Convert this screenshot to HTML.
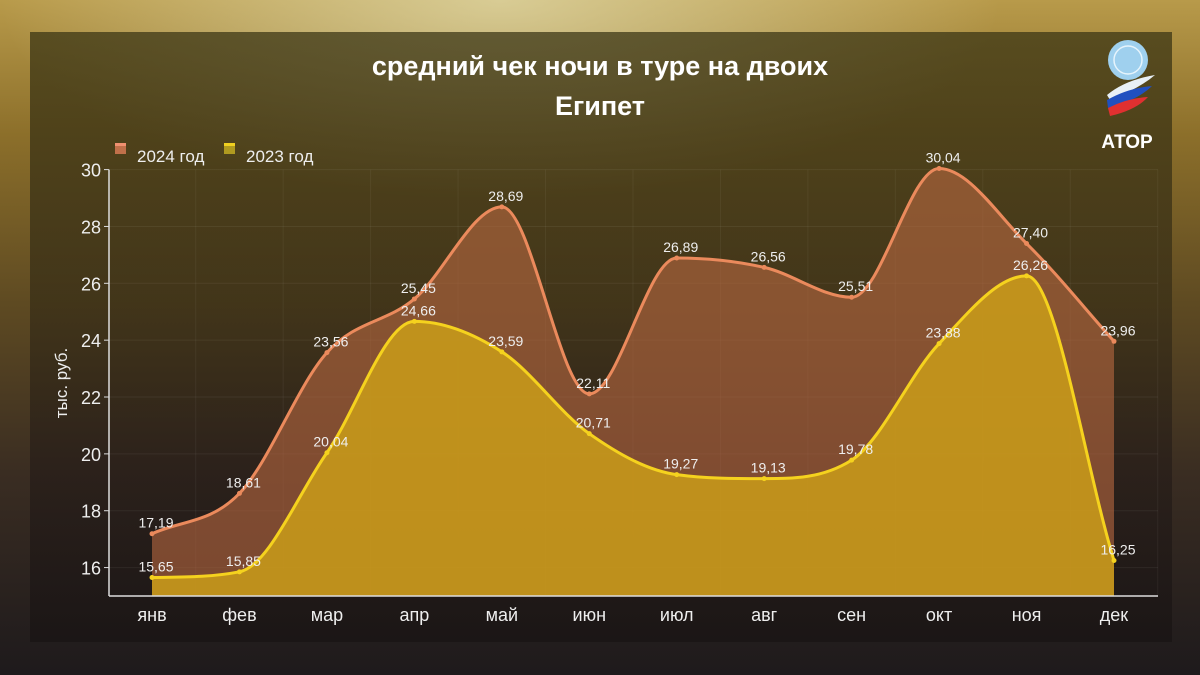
<!DOCTYPE html>
<html><head><meta charset="utf-8">
<style>
html,body{margin:0;padding:0;}
body{width:1200px;height:675px;overflow:hidden;position:relative;font-family:"Liberation Sans","DejaVu Sans",sans-serif;
background:linear-gradient(180deg,#b89a4a 0%,#8c6f2a 20%,#5e4a22 45%,#3a2d22 70%,#1e1a1c 100%);}
#bgglow{position:absolute;left:0;top:0;width:1200px;height:675px;background:radial-gradient(ellipse 500px 200px at 500px 0px,rgba(230,225,180,0.7),rgba(230,225,180,0) 100%);}
#panel{position:absolute;left:30px;top:32px;width:1142px;height:610px;background:linear-gradient(180deg,rgba(55,50,18,0.72) 0%,rgba(55,45,22,0.72) 45%,rgba(40,30,25,0.75) 70%,rgba(25,20,20,0.8) 100%);}
svg{position:absolute;left:0;top:0;}
</style></head>
<body>
<div id="bgglow"></div>
<div id="panel"></div>
<svg id="chart" width="1200" height="675">
  <text x="600" y="75" text-anchor="middle" fill="#fff" font-size="27" font-weight="bold">средний чек ночи в туре на двоих</text>
  <text x="600" y="115" text-anchor="middle" fill="#fff" font-size="27" font-weight="bold">Египет</text>
  <g>
    <g>
      <rect x="115" y="143" width="11" height="11" fill="#c0704a"/><rect x="115" y="143" width="11" height="3" fill="#f09070"/>
      <text x="137" y="162" fill="#eee" font-size="17">2024 год</text>
    </g>
    <g>
      <rect x="224" y="143" width="11" height="11" fill="#b09a20"/><rect x="224" y="143" width="11" height="3" fill="#f0d020"/>
      <text x="246" y="162" fill="#eee" font-size="17">2023 год</text>
    </g>
  </g>
  <g>
    <circle cx="1128" cy="60" r="20" fill="#9fd0ee"/>
    <circle cx="1128" cy="60" r="14" fill="none" stroke="#e6f4fc" stroke-width="1.5"/>
    <path d="M1107 95 Q1125 80 1155 75 Q1140 88 1110 100Z" fill="#e8f0f6"/>
    <path d="M1107 100 Q1128 88 1152 86 Q1138 100 1108 108Z" fill="#2050c0"/>
    <path d="M1108 108 Q1128 98 1148 97 Q1136 110 1110 116Z" fill="#e03030"/>
    <text x="1127" y="148" text-anchor="middle" fill="#fff" font-size="19" font-weight="bold">АТОР</text>
  </g>
  <g id="grid"></g>
  <g id="series"></g>
  <g id="axes"></g>
  <text transform="translate(67,383) rotate(-90)" text-anchor="middle" fill="#eee" font-size="17">тыс. руб.</text>
</svg>
<script>
const months = ["янв","фев","мар","апр","май","июн","июл","авг","сен","окт","ноя","дек"];
const values2024 = [17.19,18.61,23.56,25.45,28.69,22.11,26.89,26.56,25.51,30.04,27.40,23.96];
const values2023 = [15.65,15.85,20.04,24.66,23.59,20.71,19.27,19.13,19.78,23.88,26.26,16.25];
const yTicks = [16,18,20,22,24,26,28,30];
const yMin = 15, yMax = 30;
const NS = "http://www.w3.org/2000/svg";
const plotL = 109, plotR = 1158, plotT = 169.6, plotB = 596;
const x = i => 152 + i * (1114 - 152) / (months.length - 1);
const y = v => plotB - (v - yMin) / (yMax - yMin) * (plotB - plotT);
function mk(tag, attrs, parent){const e=document.createElementNS(NS,tag);for(const k in attrs)e.setAttribute(k,attrs[k]);parent.appendChild(e);return e;}
const grid=document.getElementById('grid'), axes=document.getElementById('axes'), ser=document.getElementById('series');
yTicks.forEach(t=>{
  const l=mk('line',{x1:plotL,x2:plotR,y1:y(t),y2:y(t),stroke:'rgba(255,255,255,0.06)'},grid);
  
  
  const tk=mk('line',{x1:plotL-5,x2:plotL,y1:y(t),y2:y(t),stroke:'#ddd'},axes);
  
  
  const tx=mk('text',{x:plotL-8,y:y(t)+7,'text-anchor':'end',fill:'#eee','font-size':'18'},axes);
  tx.textContent=t;
  
  
});
months.forEach((m,i)=>{
  const gl=mk('line',{x1:x(i)+43.7,x2:x(i)+43.7,y1:plotT,y2:plotB,stroke:'rgba(255,255,255,0.05)'},grid);
  
  
  const tx=mk('text',{x:x(i),y:621,'text-anchor':'middle',fill:'#eee','font-size':'18'},axes);
  tx.textContent=m;
  
  
});
const ya=mk('line',{x1:plotL,x2:plotL,y1:plotT,y2:plotB,stroke:'#ddd','stroke-width':1.5},axes);


const xa=mk('line',{x1:plotL,x2:plotR,y1:plotB,y2:plotB,stroke:'#ddd','stroke-width':1.5},axes);


function curve(vals){
  const p=vals.map((v,i)=>[x(i),y(v)]);
  const n=p.length, d=[], m=[];
  for(let i=0;i<n-1;i++) d.push((p[i+1][1]-p[i][1])/(p[i+1][0]-p[i][0]));
  for(let i=0;i<n;i++){
    if(i===0) m.push(d[0]);
    else if(i===n-1) m.push(d[n-2]);
    else if(d[i-1]*d[i]<=0) m.push(0);
    else m.push((d[i-1]+d[i])/2);
  }
  for(let i=0;i<n-1;i++){
    if(d[i]===0){m[i]=0;m[i+1]=0;continue;}
    const a=m[i]/d[i], b=m[i+1]/d[i], s=a*a+b*b;
    if(s>9){const t=3/Math.sqrt(s);m[i]=t*a*d[i];m[i+1]=t*b*d[i];}
  }
  let s=`M${p[0][0]},${p[0][1]}`;
  for(let i=0;i<n-1;i++){
    const h=(p[i+1][0]-p[i][0])/3;
    s+=` C${p[i][0]+h},${p[i][1]+m[i]*h} ${p[i+1][0]-h},${p[i+1][1]-m[i+1]*h} ${p[i+1][0]},${p[i+1][1]}`;
  }
  return s;
}
function drawSeries(vals,fill,stroke,name){
  const g=mk('g',{},ser);
  
  
  const c=curve(vals);
  const a=mk('path',{d:c+` L${x(vals.length-1)},${plotB} L${x(0)},${plotB}Z`,fill:fill},g);
  
  
  const l=mk('path',{d:c,fill:'none',stroke:stroke,'stroke-width':3},g);
  
  
  vals.forEach((v,i)=>{
    const pt=mk('circle',{cx:x(i),cy:y(v),r:2.5,fill:stroke},g);
    
    
    const t=mk('text',{x:x(i)+4,y:y(v)-6,'text-anchor':'middle',fill:'#eee','font-size':'14'},g);
    t.textContent=v.toFixed(2).replace('.',',');
    
    
  });
}
drawSeries(values2024,'rgba(185,105,65,0.6)','#eb8a5c','series-2024');
drawSeries(values2023,'rgba(205,160,25,0.82)','#f5d21e','series-2023');
</script>
</body></html>
